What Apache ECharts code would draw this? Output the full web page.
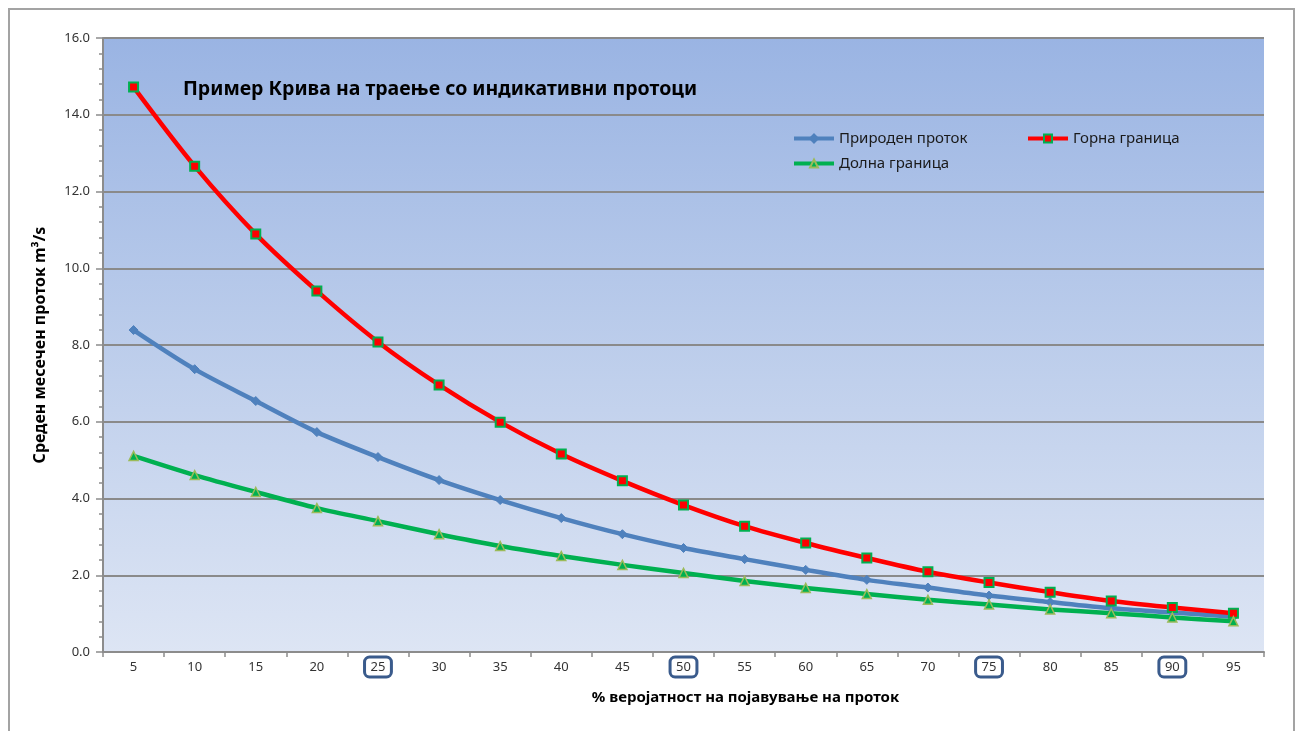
<!DOCTYPE html>
<html>
<head>
<meta charset="utf-8">
<script src="https://cdn.jsdelivr.net/npm/echarts@6/dist/echarts.min.js"></script>
<style>
html,body{margin:0;padding:0;background:#fff;}
#chart{width:1303px;height:731px;}
</style>
</head>
<body>
<div id="chart"></div>
<script>
const categories = ['5','10','15','20','25','30','35','40','45','50','55','60','65','70','75','80','85','90','95'];
const boxedLabels = ['25','50','75','90'];
const naturalFlow = [8.39,7.37,6.54,5.73,5.08,4.48,3.96,3.49,3.07,2.71,2.42,2.14,1.88,1.68,1.47,1.30,1.14,1.03,0.92];
const upperBound = [14.72,12.66,10.89,9.41,8.08,6.96,5.99,5.16,4.46,3.83,3.28,2.84,2.45,2.09,1.81,1.56,1.33,1.16,1.01];
const lowerBound = [5.11,4.61,4.17,3.75,3.41,3.07,2.76,2.50,2.27,2.06,1.85,1.67,1.51,1.36,1.24,1.11,1.01,0.90,0.80];
const seriesNames = ['Природен проток','Горна граница','Долна граница'];
const titleText = 'Пример Крива на траење со индикативни протоци';
const yName = 'Среден месечен проток m³/s';
const xName = '% веројатност на појавување на проток';

const FONT = 'Noto Sans';
const chart = echarts.init(document.getElementById('chart'));
const legendText = {fontFamily: FONT, fontSize: 15, color: '#1a1a1a'};
const legendCommon = {itemWidth: 40, itemHeight: 10, itemGap: 5, textStyle: legendText, lineStyle: {width: 4}};
const option = {
  animation: false,
  backgroundColor: '#ffffff',
  title: {
    text: titleText, left: 178, top: 74,
    textStyle: {fontFamily: FONT, fontSize: 19.5, fontWeight: 'bold', color: '#000'}
  },
  legend: [
    Object.assign({data: [seriesNames[0]], left: 787, top: 126}, legendCommon),
    Object.assign({data: [seriesNames[1]], left: 1021, top: 126}, legendCommon),
    Object.assign({data: [seriesNames[2]], left: 787, top: 151}, legendCommon)
  ],
  graphic: [{
    type: 'rect', silent: true, z: -1,
    shape: {x: 9, y: 9, width: 1285, height: 760},
    style: {fill: 'none', stroke: '#a3a3a3', lineWidth: 2}
  }],
  grid: {
    left: 103, right: 39, top: 38, bottom: 79,
    show: true, borderWidth: 0,
    backgroundColor: new echarts.graphic.LinearGradient(0, 0, 0, 1, [
      {offset: 0, color: '#9ab4e3'},
      {offset: 0.5, color: '#bccdeb'},
      {offset: 1, color: '#dde5f4'}
    ])
  },
  xAxis: {
    type: 'category', data: categories, boundaryGap: true,
    name: xName, nameLocation: 'middle', nameGap: 38,
    nameTextStyle: {fontFamily: FONT, fontSize: 15, fontWeight: 'bold', color: '#000', padding: [0, 0, 0, 124]},
    axisLine: {show: true, lineStyle: {color: '#8c8c8c', width: 2}},
    axisTick: {show: true, alignWithLabel: false, length: 5, lineStyle: {color: '#8c8c8c', width: 1.5}},
    axisLabel: {
      margin: 5, interval: 0,
      formatter: v => boxedLabels.includes(v) ? '{b|' + v + '}' : '{n|' + v + '}',
      rich: {
        n: {fontFamily: FONT, fontSize: 13, color: '#333', padding: [4, 6, 3, 6], borderWidth: 3, borderColor: 'transparent', borderRadius: 5},
        b: {fontFamily: FONT, fontSize: 13, color: '#333', padding: [4, 6, 3, 6], borderWidth: 3, borderColor: '#3a5b8c', borderRadius: 5}
      }
    },
    splitLine: {show: false}
  },
  yAxis: {
    type: 'value', min: 0, max: 16, interval: 2,
    name: yName, nameLocation: 'middle', nameGap: 55,
    nameTextStyle: {fontFamily: FONT, fontSize: 16, fontWeight: 'bold', color: '#000'},
    axisLine: {show: true, lineStyle: {color: '#8c8c8c', width: 2}},
    axisTick: {show: true, length: 7, lineStyle: {color: '#8c8c8c', width: 1.5}},
    minorTick: {show: true, splitNumber: 5, length: 4, lineStyle: {color: '#8c8c8c', width: 1.5}},
    axisLabel: {margin: 13, fontFamily: FONT, fontSize: 13, color: '#333', formatter: v => v.toFixed(1)},
    splitLine: {show: true, lineStyle: {color: '#8a8a8a', width: 2}}
  },
  series: [
    {
      name: seriesNames[0], type: 'line', data: naturalFlow, smooth: 0.3,
      symbol: 'diamond', symbolSize: 9,
      lineStyle: {color: '#4f81bd', width: 4.5},
      itemStyle: {color: '#4f81bd', borderColor: '#4f81bd', borderWidth: 1}
    },
    {
      name: seriesNames[1], type: 'line', data: upperBound, smooth: 0.3,
      symbol: 'rect', symbolSize: 9,
      lineStyle: {color: '#ff0000', width: 4.5},
      itemStyle: {color: '#ff0000', borderColor: '#00b050', borderWidth: 2}
    },
    {
      name: seriesNames[2], type: 'line', data: lowerBound, smooth: 0.3,
      symbol: 'triangle', symbolSize: 9,
      lineStyle: {color: '#00b050', width: 4.5},
      itemStyle: {color: '#00b050', borderColor: '#9bbb59', borderWidth: 1.5}
    }
  ]
};
chart.setOption(option);
</script>
</body>
</html>
